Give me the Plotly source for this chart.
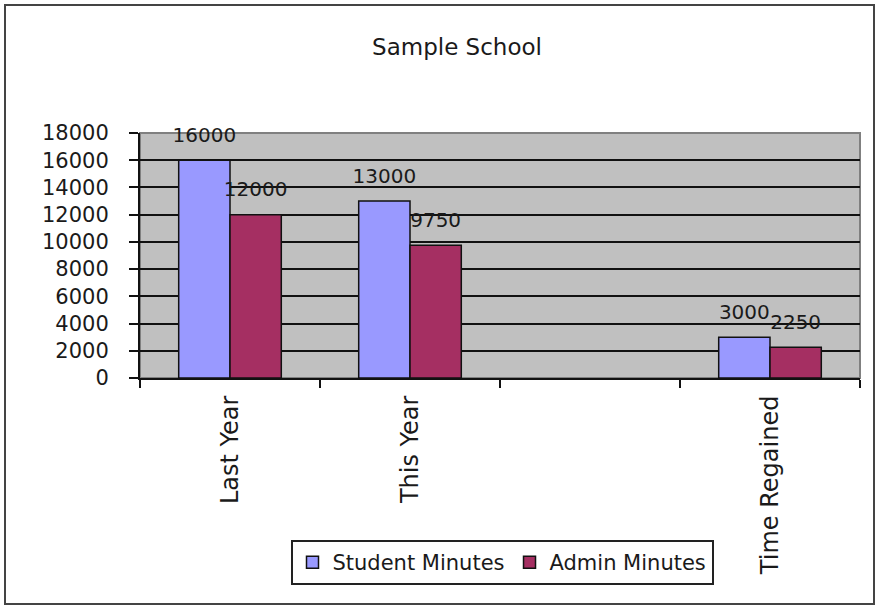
import plotly.graph_objects as go

categories = ["Last Year", "This Year", " ", "Time Regained"]
student_minutes = [16000, 13000, None, 3000]
admin_minutes = [12000, 9750, None, 2250]
series_names = ["Student Minutes", "Admin Minutes"]
y_ticks = list(range(0, 18001, 2000))
y_tick_text = [str(v) for v in y_ticks]

FONT = "DejaVu Sans"
colors = ["#9999FF", "#A52F62"]

fig = go.Figure()
for name, vals, col in zip(series_names, [student_minutes, admin_minutes], colors):
    fig.add_trace(go.Bar(
        x=categories, y=vals, name=name, offsetgroup=name,
        marker=dict(color=col, line=dict(color="#111111", width=1.5)),
        cliponaxis=False,
    ))
for name, vals in zip(series_names, [student_minutes, admin_minutes]):
    fig.add_trace(go.Scatter(
        x=categories, y=vals, offsetgroup=name, mode="markers+text",
        text=[("" if v is None else str(v)) for v in vals],
        textposition="top center",
        textfont=dict(family=FONT, size=20, color="#1a1a1a"),
        marker=dict(size=20, opacity=0),
        showlegend=False, hoverinfo="skip", cliponaxis=False,
    ))

W, H = 877, 607
L, R, T, B = 140, 17, 133, 229
pw = W - L - R
ph = H - T - B

def px_x(p):
    return (p - L) / pw

def px_y(p):
    return (H - B - p) / ph

fig.update_layout(
    width=W, height=H,
    margin=dict(l=L, r=R, t=T, b=B),
    paper_bgcolor="white",
    plot_bgcolor="#C0C0C0",
    barmode="group", bargap=0.43, bargroupgap=0,
    scattermode="group", scattergap=0.43,
    font=dict(family=FONT, color="#1a1a1a"),
    title=dict(text="Sample School", font=dict(family=FONT, size=23, color="#1a1a1a"),
               xref="paper", x=px_x(457), xanchor="center",
               yref="container", y=1 - 47 / H, yanchor="middle"),
    xaxis=dict(
        type="category", categoryorder="array", categoryarray=categories,
        tickson="boundaries", ticks="outside", ticklen=8, tickwidth=2, tickcolor="#111",
        showline=True, linecolor="#111", linewidth=2,
        tickangle=-90, tickfont=dict(family=FONT, size=24, color="#1a1a1a"),
        ticklabelstandoff=6,
        showgrid=False, zeroline=False,
    ),
    yaxis=dict(
        range=[0, 18000], tickvals=y_ticks, ticktext=y_tick_text,
        ticks="outside", ticklen=9, tickwidth=2,
        tickcolor="#111", showline=True, linecolor="#111", linewidth=2,
        showgrid=True, gridcolor="#111", gridwidth=2, zeroline=False,
        tickfont=dict(family=FONT, size=21, color="#1a1a1a"),
        ticklabelstandoff=16,
    ),
    legend=dict(
        orientation="h", x=px_x(502), xanchor="center", y=px_y(540), yanchor="top",
        bgcolor="white", bordercolor="#222", borderwidth=2,
        font=dict(family=FONT, size=21, color="#1a1a1a"),
    ),
    shapes=[
        dict(type="rect", xref="paper", yref="paper", x0=0, x1=1, y0=0, y1=1,
             line=dict(color="#808080", width=2), layer="below"),
        dict(type="rect", xref="paper", yref="paper",
             x0=px_x(5), x1=px_x(874), y0=px_y(604), y1=px_y(5),
             line=dict(color="#444444", width=2), layer="below"),
    ],
)

fig.write_html("out.html")
